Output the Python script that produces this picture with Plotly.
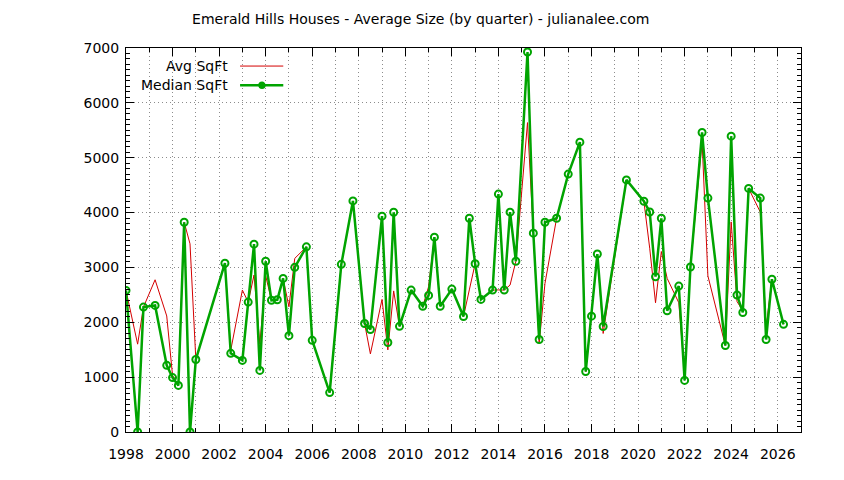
import plotly.graph_objects as go

# quarter positions (year + (quarter-1)/4)
quarters = [
    1998.0, 1998.5, 1998.75, 1999.25, 1999.75, 2000.0, 2000.25, 2000.5, 2000.75, 2001.0,
    2002.25, 2002.5, 2003.0, 2003.25, 2003.5, 2003.75, 2004.0, 2004.25, 2004.5, 2004.75,
    2005.0, 2005.25, 2005.75, 2006.0, 2006.75, 2007.25, 2007.75, 2008.25, 2008.5, 2009.0,
    2009.25, 2009.5, 2009.75, 2010.25, 2010.75, 2011.0, 2011.25, 2011.5, 2012.0, 2012.5,
    2012.75, 2013.0, 2013.25, 2013.75, 2014.0, 2014.25, 2014.5, 2014.75, 2015.25, 2015.5,
    2015.75, 2016.0, 2016.5, 2017.0, 2017.5, 2017.75, 2018.0, 2018.25, 2018.5, 2019.5,
    2020.25, 2020.5, 2020.75, 2021.0, 2021.25, 2021.75, 2022.0, 2022.25, 2022.75, 2023.0,
    2023.75, 2024.0, 2024.25, 2024.5, 2024.75, 2025.25, 2025.5, 2025.75, 2026.25,
]

avg_sqft = [
    2581, 1601, 2277, 2775, 2115, 1030, 849, 3823, 3430, 1321,
    3077, 1490, 2587, 2368, 2861, 1600, 2850, 2401, 2410, 2800,
    2283, 3165, 3375, 1671, 718, 3056, 4212, 1978, 1424, 2417,
    1497, 2572, 1926, 2587, 2292, 2648, 3552, 2292, 2605, 2106,
    2590, 3068, 2417, 2587, 2590, 2587, 2678, 3113, 5640, 3625,
    1613, 2709, 3896, 4702, 5284, 1102, 2112, 3244, 1796, 4596,
    4206, 3350, 2356, 3290, 2800, 2356, 1050, 3007, 5300, 2845,
    1577, 3830, 2380, 2210, 4440, 4010, 1900, 2785, 1963,
]

median_sqft = [
    2581, 0, 2277, 2307, 1215, 992, 849, 3823, 0, 1321,
    3077, 1434, 1305, 2368, 3424, 1123, 3113, 2401, 2410, 2800,
    1756, 3001, 3375, 1671, 718, 3056, 4212, 1978, 1869, 3935,
    1631, 4005, 1926, 2587, 2292, 2490, 3552, 2292, 2605, 2106,
    3896, 3068, 2417, 2587, 4337, 2587, 4008, 3113, 6927, 3625,
    1686, 3823, 3896, 4702, 5284, 1102, 2112, 3244, 1923, 4596,
    4206, 4011, 2830, 3896, 2210, 2660, 940, 3007, 5460, 4264,
    1577, 5393, 2496, 2179, 4440, 4264, 1686, 2785, 1963,
]

RED = "#d40000"
GREEN = "#00a400"
GRID = "#8c8c8c"
GRID_DASH = "1px,3px"
FONT = "DejaVu Sans"
FSIZE = 14

fig = go.Figure()

fig.add_trace(go.Scatter(
    x=quarters, y=avg_sqft, name="Avg SqFt", mode="lines",
    line=dict(color=RED, width=1)))

fig.add_trace(go.Scatter(
    x=quarters, y=median_sqft, name="Median SqFt", mode="lines+markers",
    line=dict(color=GREEN, width=2.5),
    marker=dict(symbol="circle-open", size=7, color=GREEN, line=dict(width=2))))

axis_common = dict(
    showline=True, linecolor="black", linewidth=1, mirror="allticks",
    ticks="inside", tickcolor="black", ticklen=8, tickwidth=1,
    showgrid=True, gridcolor=GRID, griddash=GRID_DASH, gridwidth=1,
    zeroline=False, tickfont=dict(family=FONT, size=FSIZE, color="black"),
)

fig.update_xaxes(
    range=[1998, 2027], dtick=2, tick0=1998, ticklabelstandoff=9, **axis_common,
    minor=dict(dtick=1, ticks="inside", ticklen=4, tickcolor="black",
               showgrid=True, gridcolor=GRID, griddash=GRID_DASH),
)
fig.update_yaxes(
    range=[0, 7000], dtick=1000, ticklabelstandoff=3, **axis_common,
    minor=dict(dtick=100, ticks="inside", ticklen=4, tickcolor="black",
               showgrid=False),
)

# gnuplot-style key: text on the left, line sample on the right
key_x_text = 0.154
key_x0, key_x1 = 0.169, 0.233
key_rows = [(0.953, "Avg SqFt", RED, 1), (0.903, "Median SqFt", GREEN, 2.5)]
for ky, label, color, width in key_rows:
    fig.add_annotation(x=key_x_text, y=ky, xref="paper", yref="paper", text=label,
                       showarrow=False, xanchor="right", yanchor="middle",
                       font=dict(family=FONT, size=FSIZE, color="black"))
    fig.add_shape(type="line", xref="paper", yref="paper", x0=key_x0, x1=key_x1,
                  y0=ky, y1=ky, line=dict(color=color, width=width))
fig.add_shape(type="circle", xref="paper", yref="paper",
              x0=0.2015 - 0.004, x1=0.2015 + 0.004, y0=0.903 - 0.007, y1=0.903 + 0.007,
              line=dict(color=GREEN, width=2), fillcolor=GREEN)

# the page adds an 8px body margin, so margins are set 8px smaller on top/left
fig.update_layout(
    width=844, height=480,
    margin=dict(l=118, r=51, t=40, b=56),
    paper_bgcolor="white", plot_bgcolor="white",
    showlegend=False,
    title=dict(text="Emerald Hills Houses - Average Size (by quarter) - julianalee.com",
               x=0.489, xanchor="center", y=0.977, yanchor="middle",
               font=dict(family=FONT, size=FSIZE, color="black")),
    font=dict(family=FONT, size=FSIZE, color="black"),
)

fig.write_html("out.html")
